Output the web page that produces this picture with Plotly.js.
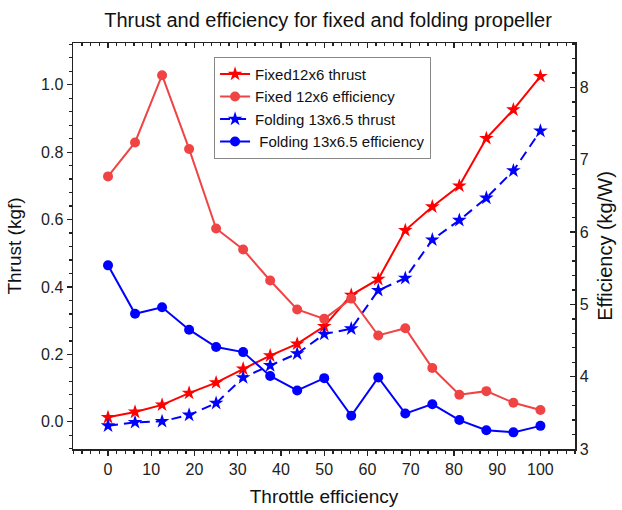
<!DOCTYPE html>
<html>
<head>
<meta charset="utf-8">
<script src="https://cdn.plot.ly/plotly-3.0.1.min.js"></script>
<style>html,body{margin:0;padding:0;background:#fff;}#chart{width:622px;height:510px;}</style>
</head>
<body>
<div id="chart"></div>
<script>
const throttle = [0, 6.25, 12.5, 18.75, 25, 31.25, 37.5, 43.75, 50, 56.25, 62.5, 68.75, 75, 81.25, 87.5, 93.75, 100];
const fixedThrust = [0.013, 0.029, 0.050, 0.085, 0.116, 0.157, 0.196, 0.231, 0.283, 0.376, 0.423, 0.568, 0.638, 0.700, 0.841, 0.926, 1.025];
const fixedEfficiency = [6.77, 7.24, 8.17, 7.15, 6.05, 5.76, 5.33, 4.93, 4.80, 5.08, 4.57, 4.67, 4.12, 3.75, 3.80, 3.64, 3.54];
const foldingThrust = [-0.012, -0.002, 0.001, 0.020, 0.055, 0.131, 0.167, 0.202, 0.260, 0.276, 0.390, 0.426, 0.540, 0.598, 0.664, 0.745, 0.863];
const foldingEfficiency = [5.54, 4.87, 4.96, 4.65, 4.41, 4.34, 4.01, 3.81, 3.98, 3.46, 3.99, 3.49, 3.62, 3.40, 3.26, 3.23, 3.32];
const seriesNames = ["Fixed12x6 thrust", "Fixed 12x6 efficiency", "Folding 13x6.5 thrust", "\u00a0Folding 13x6.5 efficiency"];

const FONT = "Liberation Sans, Arial, sans-serif";
const traces = [
  {x: throttle, y: fixedThrust, name: seriesNames[0], type: "scatter", mode: "lines+markers",
   line: {color: "#ff0000", width: 2}, marker: {symbol: "star", size: 11, color: "#ff0000"}, xaxis: "x", yaxis: "y"},
  {x: throttle, y: fixedEfficiency, name: seriesNames[1], type: "scatter", mode: "lines+markers",
   line: {color: "#f04444", width: 2}, marker: {symbol: "circle", size: 10, color: "#f04444"}, xaxis: "x", yaxis: "y2"},
  {x: throttle, y: foldingThrust, name: seriesNames[2], type: "scatter", mode: "lines+markers",
   line: {color: "#0000ff", width: 2, dash: "10px,6px"}, marker: {symbol: "star", size: 11, color: "#0000ff"}, xaxis: "x", yaxis: "y"},
  {x: throttle, y: foldingEfficiency, name: seriesNames[3], type: "scatter", mode: "lines+markers",
   line: {color: "#0000ff", width: 2}, marker: {symbol: "circle", size: 10, color: "#0000ff"}, xaxis: "x", yaxis: "y2"},
  {x: [], y: [], xaxis: "x2", yaxis: "y", showlegend: false, hoverinfo: "skip", type: "scatter"}
];

const axisCommon = {showgrid: false, zeroline: false, showline: true, linecolor: "#222", linewidth: 1.5,
  tickcolor: "#222", tickwidth: 1.3, tickfont: {family: FONT, size: 16, color: "#222"}};

const layout = {
  width: 622, height: 510,
  margin: {l: 73, r: 47, t: 43, b: 61, pad: 0},
  paper_bgcolor: "#fff", plot_bgcolor: "#fff",
  font: {family: FONT, color: "#111"},
  title: {text: "Thrust and efficiency for fixed and folding propeller", font: {family: FONT, size: 20, color: "#111"},
    x: 0.508, xanchor: "center", xref: "paper", y: 0.961, yref: "container", yanchor: "middle"},
  showlegend: true,
  legend: {x: 0.281, y: 0.966, xanchor: "left", yanchor: "top", bgcolor: "#fff", bordercolor: "#888", borderwidth: 1,
    font: {family: FONT, size: 15, color: "#111"}, tracegroupgap: 0, itemwidth: 30},
  xaxis: Object.assign({}, axisCommon, {range: [-8.1, 108], tick0: 0, dtick: 10, ticks: "outside", ticklen: 5,
    minor: {dtick: 2, tick0: 0, ticks: "outside", ticklen: 3, tickcolor: "#222", showgrid: false},
    title: {text: "Throttle efficiency", font: {family: FONT, size: 19, color: "#111"}, standoff: 13}}),
  xaxis2: Object.assign({}, axisCommon, {range: [-8.1, 108], overlaying: "x", side: "top", anchor: "y", tick0: 0, dtick: 10,
    ticks: "inside", ticklen: 5, showticklabels: false,
    minor: {dtick: 2, tick0: 0, ticks: "inside", ticklen: 3, tickcolor: "#222", showgrid: false}}),
  yaxis: Object.assign({}, axisCommon, {range: [-0.081, 1.124], tick0: 0, dtick: 0.2, tickformat: ".1f", ticks: "outside", ticklen: 5,
    minor: {dtick: 0.04, tick0: 0, ticks: "outside", ticklen: 3, tickcolor: "#222", showgrid: false},
    title: {text: "Thrust (kgf)", font: {family: FONT, size: 19, color: "#111"}, standoff: 14}}),
  yaxis2: Object.assign({}, axisCommon, {range: [3, 8.615], overlaying: "y", side: "right", anchor: "x", tick0: 3, dtick: 1,
    ticks: "inside", ticklen: 5,
    minor: {dtick: 0.2, tick0: 3, ticks: "inside", ticklen: 3, tickcolor: "#222", showgrid: false}},
    {title: {text: "Efficiency (kg/W)", font: {family: FONT, size: 20, color: "#111"}, standoff: 10}})
};

Plotly.newPlot("chart", traces, layout, {displayModeBar: false, staticPlot: true});
</script>
</body>
</html>
